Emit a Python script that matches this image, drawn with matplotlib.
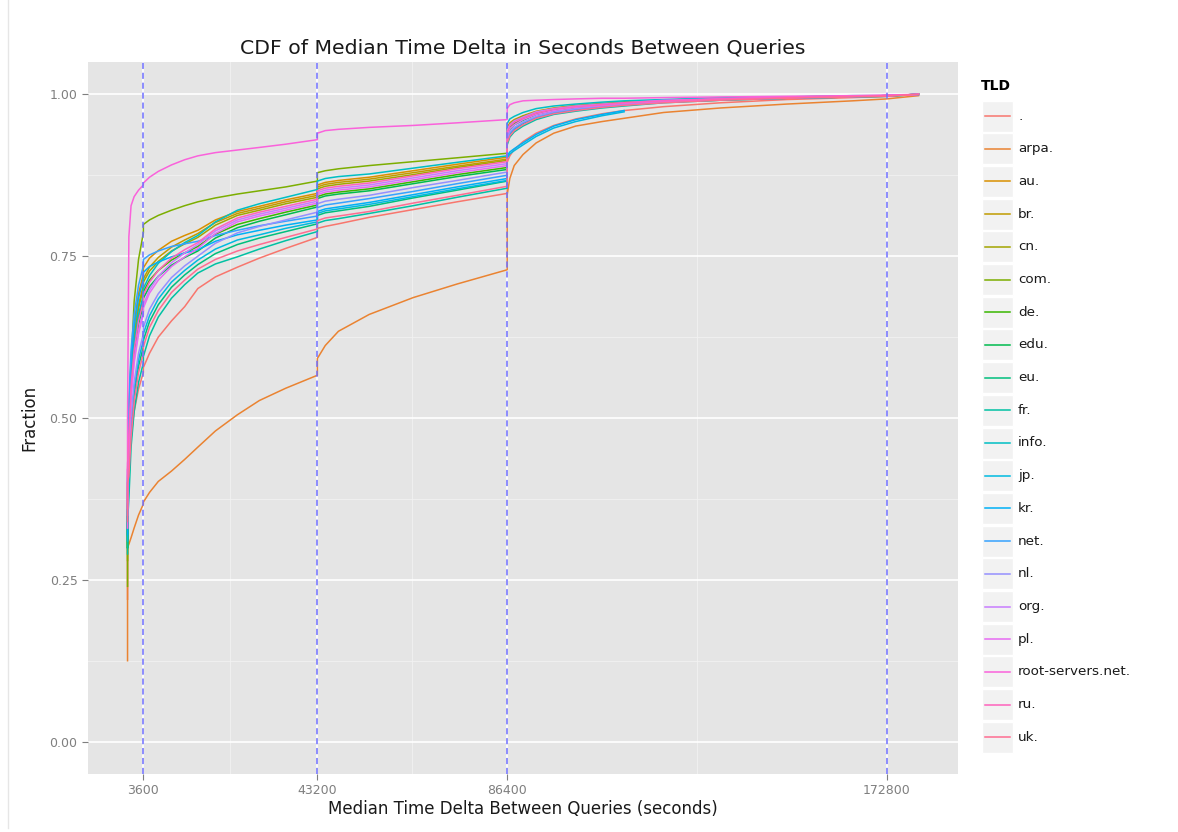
import numpy as np
import matplotlib
matplotlib.use("Agg")
import matplotlib.pyplot as plt

# ── data ──────────────────────────────────────────────────────────────────
X = [0, 0, 300, 800, 1500, 2500, 3599,
     3600, 5000, 7000, 10000, 13000, 16000, 20000, 25000, 30000, 36000, 43199,
     43200, 45000, 48000, 55000, 65000, 75000, 86399,
     86400, 87000, 88000, 90000, 93000, 97000, 102000, 108000, 113000, 122000,
     135000, 150000, 165000, 172800, 180000]

Y_DOT = [0.22, 0.34, 0.42, 0.47, 0.51, 0.545, 0.570,
         0.578, 0.600, 0.625, 0.650, 0.672, 0.700, 0.718, 0.733, 0.747, 0.762, 0.779,
         0.793, 0.796, 0.800, 0.810, 0.822, 0.834, 0.847,
         0.895, 0.905, 0.915, 0.927, 0.940, 0.952, 0.962, 0.970, 0.975, 0.981,
         0.987, 0.992, 0.995, 0.997, 1.0]
Y_ARPA = [0.125, 0.30, 0.305, 0.315, 0.330, 0.350, 0.367,
          0.370, 0.385, 0.402, 0.418, 0.436, 0.455, 0.480, 0.505, 0.527, 0.546, 0.566,
          0.592, 0.612, 0.634, 0.660, 0.686, 0.707, 0.729,
          0.845, 0.870, 0.890, 0.907, 0.925, 0.940, 0.951, 0.958, 0.963, 0.972,
          0.979, 0.985, 0.990, 0.993, 0.998]
Y_AU = [0.30, 0.36, 0.512, 0.592, 0.647, 0.692, 0.722,
        0.732, 0.747, 0.759, 0.773, 0.782, 0.790, 0.806, 0.819, 0.827, 0.837, 0.847,
        0.860, 0.864, 0.867, 0.872, 0.882, 0.892, 0.903,
        0.948, 0.956, 0.961, 0.967, 0.974, 0.979, 0.983, 0.986, 0.988, 0.991,
        0.994, 0.996, 0.997, 0.998, 1.0]
Y_BR = [0.32, 0.38, 0.495, 0.575, 0.630, 0.675, 0.705,
        0.715, 0.733, 0.748, 0.764, 0.775, 0.785, 0.802, 0.816, 0.824, 0.834, 0.844,
        0.857, 0.861, 0.864, 0.869, 0.879, 0.889, 0.900,
        0.944, 0.952, 0.958, 0.965, 0.972, 0.978, 0.982, 0.985, 0.987, 0.990,
        0.993, 0.996, 0.997, 0.998, 1.0]
Y_CN = [0.28, 0.34, 0.490, 0.570, 0.625, 0.670, 0.700,
        0.710, 0.727, 0.742, 0.758, 0.769, 0.779, 0.798, 0.813, 0.821, 0.831, 0.841,
        0.854, 0.858, 0.861, 0.866, 0.876, 0.887, 0.898,
        0.946, 0.954, 0.960, 0.966, 0.973, 0.978, 0.982, 0.985, 0.988, 0.991,
        0.994, 0.996, 0.997, 0.998, 1.0]
Y_COM = [0.24, 0.35, 0.45, 0.58, 0.68, 0.745, 0.786,
         0.799, 0.806, 0.813, 0.821, 0.828, 0.834, 0.840, 0.846, 0.851, 0.857, 0.866,
         0.879, 0.882, 0.885, 0.890, 0.896, 0.902, 0.909,
         0.945, 0.953, 0.959, 0.966, 0.972, 0.977, 0.981, 0.985, 0.987, 0.990,
         0.993, 0.995, 0.997, 0.998, 1.0]
Y_DE = [0.30, 0.36, 0.475, 0.555, 0.610, 0.655, 0.685,
        0.695, 0.713, 0.728, 0.744, 0.755, 0.765, 0.784, 0.799, 0.808, 0.818, 0.829,
        0.842, 0.846, 0.849, 0.854, 0.865, 0.876, 0.887,
        0.940, 0.949, 0.955, 0.962, 0.970, 0.976, 0.980, 0.984, 0.986, 0.990,
        0.993, 0.995, 0.997, 0.998, 1.0]
Y_EDU = [0.30, 0.35, 0.465, 0.545, 0.600, 0.645, 0.675,
         0.685, 0.703, 0.719, 0.736, 0.748, 0.758, 0.778, 0.794, 0.804, 0.814, 0.826,
         0.839, 0.843, 0.846, 0.851, 0.862, 0.873, 0.884,
         0.937, 0.946, 0.953, 0.960, 0.969, 0.975, 0.979, 0.983, 0.986, 0.989,
         0.992, 0.995, 0.997, 0.998, 1.0]
Y_EU = [0.30, 0.35, 0.40, 0.48, 0.535, 0.580, 0.610,
        0.620, 0.649, 0.675, 0.702, 0.721, 0.737, 0.754, 0.768, 0.778, 0.788, 0.800,
        0.813, 0.817, 0.820, 0.827, 0.840, 0.852, 0.866,
        0.928, 0.939, 0.946, 0.955, 0.964, 0.971, 0.976, 0.981, 0.983, 0.988,
        0.991, 0.994, 0.996, 0.997, 1.0]
Y_FR = [0.29, 0.34, 0.375, 0.455, 0.510, 0.555, 0.585,
        0.595, 0.627, 0.656, 0.685, 0.706, 0.724, 0.738, 0.749, 0.761, 0.774, 0.788,
        0.801, 0.805, 0.808, 0.816, 0.828, 0.841, 0.855,
        0.922, 0.934, 0.942, 0.951, 0.961, 0.969, 0.974, 0.979, 0.982, 0.987,
        0.991, 0.994, 0.996, 0.997, 1.0]
Y_INFO = [0.34, 0.40, 0.480, 0.560, 0.615, 0.660, 0.690,
          0.700, 0.720, 0.739, 0.757, 0.771, 0.782, 0.803, 0.821, 0.831, 0.841, 0.853,
          0.866, 0.870, 0.873, 0.877, 0.886, 0.895, 0.905,
          0.955, 0.962, 0.966, 0.972, 0.978, 0.982, 0.985, 0.988, 0.990, 0.992,
          0.995, 0.996, 0.998, 0.998, 1.0]
Y_JP = [0.31, 0.36, 0.41, 0.49, 0.545, 0.590, 0.620,
        0.630, 0.658, 0.684, 0.710, 0.728, 0.744, 0.761, 0.775, 0.783, 0.793, 0.803,
        0.816, 0.820, 0.823, 0.830, 0.842, 0.854, 0.867,
        0.902, 0.908, 0.913, 0.922, 0.935, 0.948, 0.958, 0.967, 0.973, None,
        None, None, None, None, None]
Y_KR = [0.32, 0.38, 0.505, 0.585, 0.640, 0.685, 0.715,
        0.725, 0.734, 0.741, 0.749, 0.755, 0.760, 0.773, 0.783, 0.790, 0.798, 0.806,
        0.819, 0.823, 0.826, 0.833, 0.845, 0.857, 0.870,
        0.905, 0.911, 0.916, 0.925, 0.938, 0.951, 0.961, 0.969, 0.975, None,
        None, None, None, None, None]
Y_NET = [0.33, 0.39, 0.525, 0.605, 0.660, 0.705, 0.735,
         0.745, 0.752, 0.758, 0.765, 0.769, 0.773, 0.782, 0.790, 0.797, 0.804, 0.812,
         0.825, 0.829, 0.832, 0.839, 0.850, 0.862, 0.875,
         0.930, 0.940, 0.947, 0.956, 0.965, 0.972, 0.977, 0.981, 0.984, 0.988,
         0.992, 0.994, 0.996, 0.998, 1.0]
Y_NL = [0.36, 0.42, 0.43, 0.50, 0.555, 0.600, 0.630,
        0.640, 0.668, 0.692, 0.717, 0.735, 0.750, 0.770, 0.786, 0.796, 0.806, 0.818,
        0.831, 0.835, 0.838, 0.844, 0.856, 0.867, 0.880,
        0.932, 0.942, 0.949, 0.957, 0.966, 0.973, 0.978, 0.982, 0.984, 0.988,
        0.992, 0.995, 0.997, 0.998, 1.0]
Y_ORG = [0.35, 0.41, 0.455, 0.535, 0.590, 0.635, 0.665,
         0.675, 0.698, 0.719, 0.740, 0.755, 0.768, 0.789, 0.806, 0.815, 0.824, 0.835,
         0.848, 0.852, 0.855, 0.860, 0.871, 0.882, 0.893,
         0.945, 0.953, 0.959, 0.965, 0.973, 0.978, 0.982, 0.985, 0.987, 0.991,
         0.993, 0.996, 0.997, 0.998, 1.0]
Y_PL = [0.37, 0.43, 0.45, 0.53, 0.585, 0.630, 0.660,
        0.670, 0.693, 0.713, 0.734, 0.749, 0.762, 0.785, 0.803, 0.812, 0.821, 0.832,
        0.845, 0.849, 0.852, 0.857, 0.868, 0.879, 0.890,
        0.938, 0.947, 0.953, 0.961, 0.969, 0.975, 0.980, 0.983, 0.986, 0.989,
        0.993, 0.995, 0.997, 0.998, 1.0]
Y_ROOT = [0.33, 0.50, 0.78, 0.828, 0.842, 0.852, 0.860,
          0.863, 0.872, 0.881, 0.891, 0.899, 0.905, 0.910, 0.914, 0.918, 0.923, 0.930,
          0.940, 0.944, 0.946, 0.949, 0.952, 0.956, 0.961,
          0.978, 0.984, 0.987, 0.990, 0.991, 0.992, 0.993, 0.994, 0.994, 0.995,
          0.996, 0.997, 0.998, 0.999, 1.0]
Y_RU = [0.36, 0.42, 0.47, 0.55, 0.605, 0.650, 0.680,
        0.690, 0.710, 0.728, 0.747, 0.760, 0.771, 0.792, 0.809, 0.818, 0.827, 0.838,
        0.851, 0.855, 0.858, 0.863, 0.874, 0.885, 0.896,
        0.942, 0.951, 0.957, 0.963, 0.971, 0.977, 0.981, 0.984, 0.987, 0.990,
        0.993, 0.995, 0.997, 0.998, 1.0]
Y_UK = [0.34, 0.40, 0.41, 0.47, 0.525, 0.570, 0.600,
        0.610, 0.640, 0.666, 0.694, 0.713, 0.730, 0.745, 0.758, 0.768, 0.779, 0.792,
        0.805, 0.809, 0.812, 0.819, 0.832, 0.844, 0.858,
        0.925, 0.936, 0.944, 0.953, 0.963, 0.970, 0.975, 0.980, 0.983, 0.987,
        0.991, 0.994, 0.996, 0.997, 1.0]

TLDS = [".", "arpa.", "au.", "br.", "cn.", "com.", "de.", "edu.", "eu.", "fr.",
        "info.", "jp.", "kr.", "net.", "nl.", "org.", "pl.", "root-servers.net.",
        "ru.", "uk."]
SERIES = [Y_DOT, Y_ARPA, Y_AU, Y_BR, Y_CN, Y_COM, Y_DE, Y_EDU, Y_EU, Y_FR,
          Y_INFO, Y_JP, Y_KR, Y_NET, Y_NL, Y_ORG, Y_PL, Y_ROOT, Y_RU, Y_UK]

VLINES = [3600, 43200, 86400, 172800]
X_TICKS = [3600, 43200, 86400, 172800]
X_MINOR = [23400, 64800, 129600]
Y_TICKS = [0.0, 0.25, 0.5, 0.75, 1.0]
Y_MINOR = [0.125, 0.375, 0.625, 0.875]

# ggplot2 default hue palette, 20 levels
COLORS = ["#F8766D", "#EA8331", "#D89000", "#C09B00", "#A3A500", "#7CAE00",
          "#39B600", "#00BB4E", "#00BF7D", "#00C1A3", "#00BFC4", "#00BAE0",
          "#00B0F6", "#35A2FF", "#9590FF", "#C77CFF", "#E76BF3", "#FA62DB",
          "#FF62BC", "#FF6C91"]

W, H = 1178, 832
fig = plt.figure(figsize=(W / 100, H / 100), dpi=100)
fig.patch.set_facecolor("white")

# panel in pixel coords: left 88, right 958, top 62, bottom 774
ax = fig.add_axes([88 / W, 1 - 774 / H, (958 - 88) / W, (774 - 62) / H])
ax.set_facecolor("#E5E5E5")
for s in ax.spines.values():
    s.set_visible(False)

for xm in X_MINOR:
    ax.axvline(xm, color="#F2F2F2", lw=0.6, zorder=0)
for ym in Y_MINOR:
    ax.axhline(ym, color="#F2F2F2", lw=0.6, zorder=0)
for xt in X_TICKS:
    ax.axvline(xt, color="white", lw=1.2, zorder=0)
for yt in Y_TICKS:
    ax.axhline(yt, color="white", lw=1.2, zorder=0)

x = np.array(X, dtype=float)
for ys, col in zip(SERIES, COLORS):
    y = np.array([np.nan if v is None else v for v in ys], dtype=float)
    ax.plot(x, y, color=col, lw=1.1, zorder=2, solid_joinstyle="round")

for v in VLINES:
    ax.axvline(v, color="#6E6EFF", lw=1.1, dashes=(4, 2.5), zorder=3)

ax.set_xlim(-9000, 189000)
ax.set_ylim(-0.05, 1.05)
ax.set_xticks(X_TICKS)
ax.set_xticklabels([str(t) for t in X_TICKS])
ax.set_yticks(Y_TICKS)
ax.set_yticklabels([f"{t:.2f}" for t in Y_TICKS])
ax.tick_params(axis="both", colors="#7F7F7F", labelcolor="#7F7F7F",
               labelsize=9, length=4, width=0.8)

ax.set_xlabel("Median Time Delta Between Queries (seconds)", fontsize=12,
              labelpad=2, color="#1A1A1A")
ax.set_ylabel("Fraction", fontsize=12, labelpad=8, color="#1A1A1A")
ax.set_title("CDF of Median Time Delta in Seconds Between Queries", fontsize=14.7,
             pad=6, color="#1A1A1A")

# ── legend drawn in pixel coords ──────────────────────────────────────────
lax = fig.add_axes([0, 0, 1, 1], facecolor="none")
lax.set_xlim(0, W)
lax.set_ylim(H, 0)
lax.axis("off")
lax.text(981, 86, "TLD", fontsize=10, fontweight="bold", va="center", ha="left")
row0, step = 116, 32.7
for i, (lab, col) in enumerate(zip(TLDS, COLORS)):
    cy = row0 + step * i
    lax.add_patch(plt.Rectangle((982, cy - 15.5), 31, 31, facecolor="#F2F2F2",
                                edgecolor="white", lw=1.0))
    lax.plot([985, 1010], [cy, cy], color=col, lw=1.1)
    lax.text(1018, cy, lab, fontsize=9.7, va="center", ha="left", color="#1A1A1A")

# faint screenshot frame on the left
lax.plot([8, 8], [0, 828], color="#E6E6E6", lw=1.0)

fig.savefig("out.png", dpi=100)
